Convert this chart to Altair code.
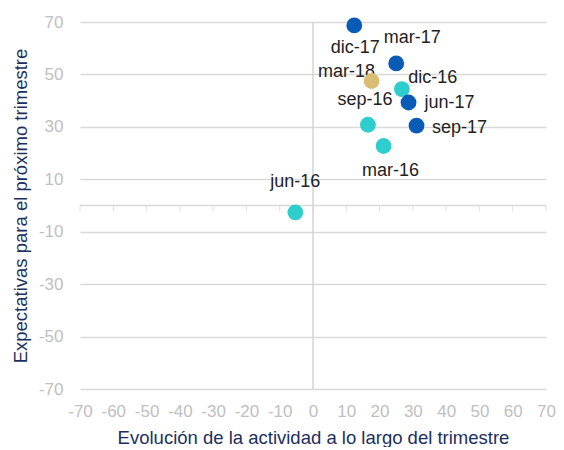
import altair as alt
import pandas as pd

labels = ["mar-16", "jun-16", "sep-16", "dic-16", "mar-17", "jun-17", "sep-17", "dic-17", "mar-18"]
actividad = [21.2, -5.3, 16.5, 26.7, 25.0, 28.7, 31.1, 12.4, 17.6]
expectativas = [22.7, -2.6, 30.8, 44.4, 54.2, 39.3, 30.5, 68.7, 47.5]
years = ["2016", "2016", "2016", "2016", "2017", "2017", "2017", "2017", "2018"]
x_ticks = list(range(-70, 71, 10))
y_ticks = [-70, -50, -30, -10, 10, 30, 50, 70]

df = pd.DataFrame({"label": labels, "x": actividad, "y": expectativas, "year": years})
ticks_df = pd.DataFrame({"t": x_ticks})

FONT = "Liberation Sans"
x_scale = alt.Scale(domain=[-70, 70], nice=False, zero=False)
y_scale = alt.Scale(domain=[-70, 70], nice=False, zero=False)

x_axis = alt.Axis(values=x_ticks, grid=False, domain=False, ticks=False,
                  labelOverlap=False, labelFlush=False, labelExpr="toString(datum.value)",
                  labelColor="#c0c0c0", labelFontSize=17, labelPadding=14,
                  labelFont=FONT, title="Evolución de la actividad a lo largo del trimestre",
                  titleColor="#1c2f5e", titleFontSize=18.5, titleFont=FONT,
                  titleFontWeight="normal", titlePadding=9)
y_axis = alt.Axis(values=y_ticks, grid=True, gridColor="#d9d9d9", gridWidth=1.5,
                  domain=False, ticks=False, labelColor="#c0c0c0", labelFontSize=17,
                  labelOverlap=False, labelFlush=False, labelExpr="toString(datum.value)",
                  labelPadding=17, labelFont=FONT,
                  title="Expectativas para el próximo trimestre",
                  titleColor="#1c2f5e", titleFontSize=18.5, titleFont=FONT,
                  titleFontWeight="normal", titlePadding=8)

base = alt.Chart(df)

points = base.mark_circle(size=250, opacity=1).encode(
    x=alt.X("x:Q", scale=x_scale, axis=x_axis),
    y=alt.Y("y:Q", scale=y_scale, axis=y_axis),
    color=alt.Color("year:N", scale=alt.Scale(domain=["2016", "2017", "2018"],
                                              range=["#2ecece", "#0a5bb5", "#d8bd72"]),
                    legend=None),
)

vline = alt.Chart(pd.DataFrame({"v": [0]})).mark_rule(color="#d4d4d4", strokeWidth=1.5).encode(
    x=alt.X("v:Q", scale=x_scale, axis=x_axis))
hline = alt.Chart(pd.DataFrame({"v": [0]})).mark_rule(color="#d9d9d9", strokeWidth=1.5).encode(
    y=alt.Y("v:Q", scale=y_scale, axis=y_axis))
tickmarks = alt.Chart(ticks_df).mark_tick(orient="vertical", size=6, thickness=1,
                                          color="#d4d4d4", yOffset=3).encode(
    x=alt.X("t:Q", scale=x_scale, axis=x_axis), y=alt.datum(0, scale=y_scale, axis=y_axis))

offsets = {
    "dic-17": (1, 23), "mar-17": (16, -25), "mar-18": (-25, -9), "dic-16": (31, -11),
    "jun-17": (41, 1), "sep-17": (43, 2), "sep-16": (-3, -25), "mar-16": (7, 25),
    "jun-16": (0, -30),
}
texts = []
for lab in labels:
    dx, dy = offsets[lab]
    texts.append(
        base.transform_filter(alt.datum.label == lab).mark_text(
            dx=dx, dy=dy, fontSize=18, font=FONT, color="#222222",
            align="center", baseline="middle").encode(
            x=alt.X("x:Q", scale=x_scale, axis=x_axis),
            y=alt.Y("y:Q", scale=y_scale, axis=y_axis), text="label:N")
    )

chart = alt.layer(vline, hline, tickmarks, *texts, points).properties(
    width=466, height=367,
    autosize=alt.AutoSizeParams(type="none"),
    padding={"left": 72, "top": 14, "right": 10, "bottom": 58},
).configure(background="white").configure_view(stroke=None)

chart.save("out.html", embed_options={"renderer": "svg", "actions": False})
